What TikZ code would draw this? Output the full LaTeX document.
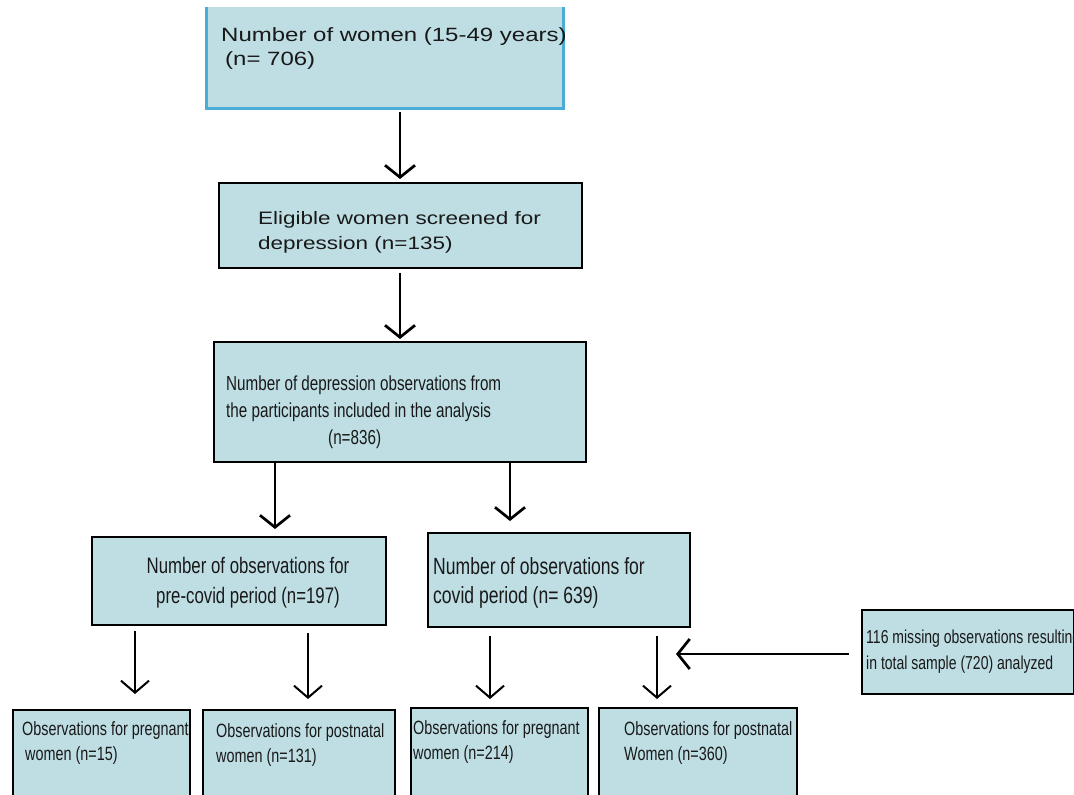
\documentclass[tikz,border=0pt]{standalone}
\usepackage{fontspec}
\setmainfont{Liberation Sans}
\newfontfamily\wideface{Liberation Sans}[FakeStretch=1.25]
\newfontfamily\narrowface{Liberation Sans}[FakeStretch=0.75]
\usetikzlibrary{arrows.meta,positioning}
\definecolor{boxfill}{RGB}{190,222,228}
\definecolor{topline}{RGB}{75,172,214}

\begin{document}
\begin{tikzpicture}[x=1pt,y=-1pt,
	box/.style={
		rectangle, draw=black, line width=2pt,
		fill=boxfill, inner sep=0pt},
	top box/.style={
		rectangle, fill=boxfill, inner sep=0pt},
	wide text/.style={
		anchor=north west, inner sep=0pt, align=left, text=black!90},
	narrow text/.style={
		anchor=north west, inner sep=0pt, align=left, text=black!90},
	arr/.style={line width=2.7pt, -{Straight Barb[length=12pt,width=30pt]}},
	thin arr/.style={line width=2pt, -{Straight Barb[length=12pt,width=28pt]}}
	]
	\useasboundingbox (0,0) rectangle (1074,795);
	\clip (0,0) rectangle (1074,795);

	% boxes
	\node[top box, minimum width=356, minimum height=101] (women) at (385,57.5) {};
	\draw[topline, line width=3pt] (women.north west) -- (women.south west)
		-- (women.south east) -- (women.north east);
	\node[box, minimum width=363, minimum height=85] (eligible) at (400.5,225.5) {};
	\node[box, minimum width=372, minimum height=120] (analysis) at (400,402) {};
	\node[box, minimum width=294, minimum height=88] (precovid) at (239,581) {};
	\node[box, minimum width=262, minimum height=94] (covid) at (559,580) {};
	\node[box, minimum width=212, minimum height=84] (missing) at (968,652) {};
	\node[box, minimum width=177, minimum height=90] (pregpre) at (101.5,755) {};
	\node[box, minimum width=192, minimum height=90] (postpre) at (299,755) {};
	\node[box, minimum width=177, minimum height=92] (pregcov) at (499.5,754) {};
	\node[box, minimum width=198, minimum height=92] (postcov) at (698,754) {};

	% texts
	\node[wide text, font=\wideface\fontsize{19.2}{24}\selectfont] (women text) at (221,27)
	{Number of women (15-49 years)\\\hspace*{4pt}(n= 706)};
	\node[wide text, font=\wideface\fontsize{18}{25}\selectfont] (eligible text) at (258,211)
	{Eligible women screened for\\depression (n=135)};
	\node[narrow text, font=\narrowface\fontsize{20.3}{27}\selectfont] (analysis text) at (226,376)
	{Number of depression observations from\\the participants included in the analysis\\\hspace*{102pt}(n=836)};
	\node[narrow text, anchor=north, align=center, font=\narrowface\fontsize{22.4}{30}\selectfont] (precovid text) at (248,557)
	{Number of observations for\\pre-covid period (n=197)};
	\node[narrow text, font=\narrowface\fontsize{23.4}{29}\selectfont] (covid text) at (433,557)
	{Number of observations for\\covid period (n= 639)};
	\node[narrow text, font=\narrowface\fontsize{18.7}{26}\selectfont] (missing text) at (866,630)
	{116 missing observations resulting\\in total sample (720) analyzed};
	\node[narrow text, font=\narrowface\fontsize{19.2}{25}\selectfont] (pregpre text) at (22,721)
	{Observations for pregnant\\\hspace*{3pt}women (n=15)};
	\node[narrow text, font=\narrowface\fontsize{19.2}{25}\selectfont] (postpre text) at (216,723)
	{Observations for postnatal\\women (n=131)};
	\node[narrow text, font=\narrowface\fontsize{19.2}{25}\selectfont] (pregcov text) at (413,720)
	{Observations for pregnant\\women (n=214)};
	\node[narrow text, font=\narrowface\fontsize{19.2}{25}\selectfont] (postcov text) at (624,721)
	{Observations for postnatal\\Women (n=360)};

	% arrows
	\draw[arr, shorten <=4pt, shorten >=3pt] (women.south -| 400,0) -- (eligible.north -| 400,0);
	\draw[arr, shorten <=4pt, shorten >=2pt] (eligible.south -| 400,0) -- (analysis.north -| 400,0);
	\draw[arr, shorten >=7pt] (analysis.south -| 275,0) -- (precovid.north -| 275,0);
	\draw[arr, shorten >=11pt] (analysis.south -| 510,0) -- (covid.north -| 510,0);
	\draw[thin arr, shorten <=5pt, shorten >=15pt] (precovid.south -| 135,0) -- (pregpre.north -| 135,0);
	\draw[thin arr, shorten <=7pt, shorten >=10pt] (precovid.south -| 308,0) -- (postpre.north -| 308,0);
	\draw[thin arr, shorten <=8pt, shorten >=8pt] (covid.south -| 490,0) -- (pregcov.north -| 490,0);
	\draw[thin arr, shorten <=8pt, shorten >=8pt] (covid.south -| 657,0) -- (postcov.north -| 657,0);
	\coordinate (join) at (676,654);
	\draw[arr, shorten <=12pt] (missing.west |- join) -- (join);
\end{tikzpicture}
\end{document}
